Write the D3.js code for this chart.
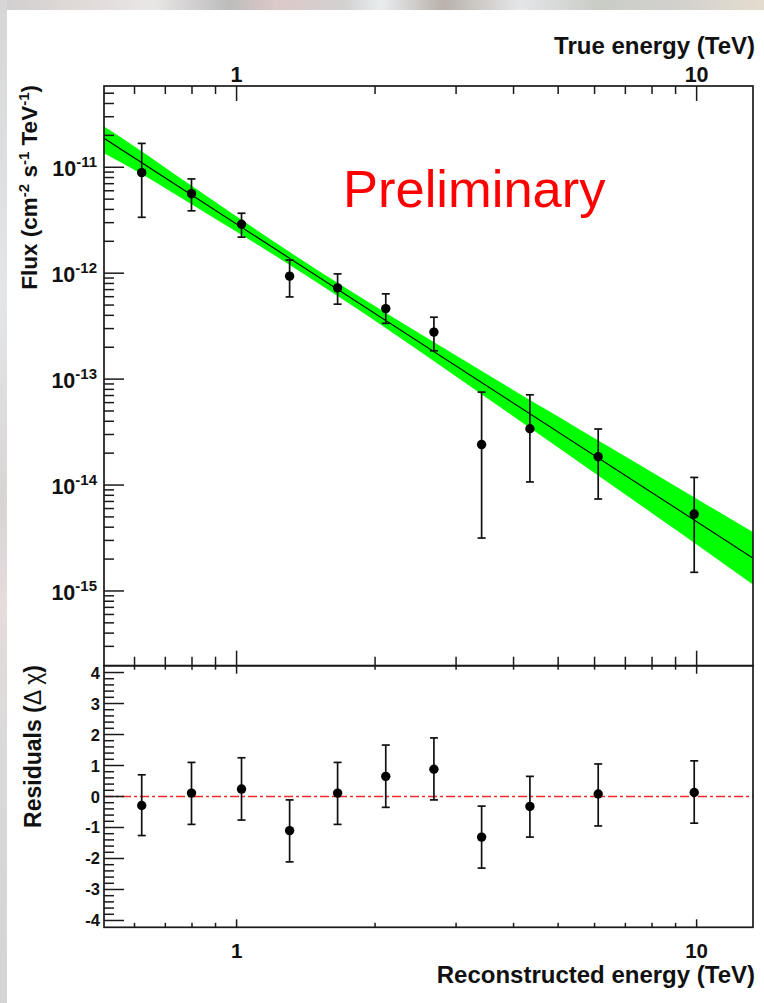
<!DOCTYPE html>
<html>
<head>
<meta charset="utf-8">
<script src="https://cdn.jsdelivr.net/npm/d3@7"></script>
<style>
  html, body { margin: 0; padding: 0; background: #fff; }
  svg { display: block; }
  text { font-family: "Liberation Sans", Arial, sans-serif; }
</style>
</head>
<body>
<svg id="chart" width="764" height="1003"></svg>
<script>
// Measured spectral points (energy in TeV, flux in cm^-2 s^-1 TeV^-1)
const energies = [0.622, 0.798, 1.025, 1.304, 1.658, 2.110, 2.685, 3.409, 4.341, 6.11, 9.88];
const flux     = [8.89e-12, 5.63e-12, 2.90e-12, 9.37e-13, 7.27e-13, 4.63e-13, 2.78e-13, 2.41e-14, 3.40e-14, 1.85e-14, 5.32e-15];
const fluxHi   = [1.68e-11, 7.76e-12, 3.68e-12, 1.33e-12, 9.85e-13, 6.38e-13, 3.84e-13, 7.54e-14, 7.11e-14, 3.38e-14, 1.18e-14];
const fluxLo   = [3.37e-12, 3.88e-12, 2.19e-12, 5.97e-13, 5.10e-13, 3.36e-13, 1.85e-13, 3.16e-15, 1.07e-14, 7.38e-15, 1.50e-15];

// Residuals of the points with respect to the fitted power law
const residuals = [-0.29, 0.11, 0.24, -1.10, 0.11, 0.65, 0.88, -1.31, -0.32, 0.08, 0.13];
const resHi     = [0.70, 1.10, 1.25, -0.11, 1.10, 1.66, 1.89, -0.31, 0.65, 1.05, 1.15];
const resLo     = [-1.26, -0.90, -0.76, -2.11, -0.90, -0.35, -0.11, -2.31, -1.31, -0.95, -0.86];

// Best-fit power law (straight in log-log) and its 1-sigma butterfly
const fitE    = [0.515, 13.25];
const fitFlux = [1.88e-11, 2.05e-15];
const bandE     = [0.515, 0.6, 0.8, 1.0, 1.3, 1.7, 2.2, 3, 4, 5, 6, 8, 10, 13.25];
const bandUpper = [2.42e-11, 1.574e-11, 6.65e-12, 3.43e-12, 1.60e-12, 7.55e-13, 3.77e-13, 1.667e-13, 7.87e-14, 4.43e-14, 2.76e-14, 1.32e-14, 7.43e-15, 3.61e-15];
const bandLower = [1.355e-11, 9.43e-12, 4.46e-12, 2.46e-12, 1.21e-12, 5.67e-13, 2.68e-13, 1.06e-13, 4.44e-14, 2.26e-14, 1.297e-14, 5.42e-15, 2.75e-15, 1.15e-15];

// Axis ticks
const energyMajor = [1, 10];
const energyMinor = [0.6, 0.7, 0.8, 0.9, 2, 3, 4, 5, 6, 7, 8, 9];
const fluxExponents = [-11, -12, -13, -14, -15];
const residualMajor = [-4, -3, -2, -1, 0, 1, 2, 3, 4];

const svg = d3.select("#chart");

// Backdrop around the white sheet
const defs = svg.append("defs");
const gTop = defs.append("linearGradient").attr("id", "bgTop");
[[0, "#cfcfcf"], [0.08, "#ddd7d5"], [0.2, "#e9e6e6"], [0.3, "#bdbcbc"], [0.36, "#dcc9c8"], [0.45, "#d3d1d1"],
 [0.5, "#e9ecee"], [0.58, "#b9b1aa"], [0.68, "#e4e6e8"], [0.78, "#c9cdc6"], [0.88, "#d2d0cd"], [1, "#e4ddcf"]]
  .forEach(([o, c]) => gTop.append("stop").attr("offset", o).attr("stop-color", c));
const gLeft = defs.append("linearGradient").attr("id", "bgLeft").attr("x1", 0).attr("y1", 0).attr("x2", 0).attr("y2", 1);
[[0, "#d6d6d6"], [0.3, "#e4e6e8"], [0.5, "#d8d4d4"], [0.6, "#e6dcdc"], [0.75, "#d9d9d9"], [1, "#d4d4d4"]]
  .forEach(([o, c]) => gLeft.append("stop").attr("offset", o).attr("stop-color", c));
svg.append("rect").attr("x", 0).attr("y", 0).attr("width", 764).attr("height", 10).attr("fill", "url(#bgTop)");
svg.append("rect").attr("x", 0).attr("y", 0).attr("width", 7).attr("height", 1003).attr("fill", "url(#bgLeft)");
svg.append("rect").attr("x", 7).attr("y", 10).attr("width", 757).attr("height", 993).attr("fill", "#fff");

// Layout of the two pads
const left = 104, right = 753;
const top1 = 86, split = 665.7, bottom2 = 927.3;

const x = d3.scaleLog().domain([0.515, 13.26]).range([left, right]);
const y = d3.scaleLog().domain([5.85e-11, 1.97e-16]).range([top1, split]);
const yr = d3.scaleLinear().domain([-4.22, 4.22]).range([bottom2, split]);

defs.append("clipPath").attr("id", "clipTop")
  .append("rect").attr("x", left).attr("y", top1).attr("width", right - left).attr("height", split - top1);

// Butterfly band and fitted line
const plotTop = svg.append("g").attr("clip-path", "url(#clipTop)");
const bandArea = d3.area()
  .x((d, i) => x(bandE[i]))
  .y0((d, i) => y(bandLower[i]))
  .y1((d, i) => y(bandUpper[i]))
  .curve(d3.curveMonotoneX);
plotTop.append("path").datum(bandE).attr("d", bandArea).attr("fill", "#00ff00");
plotTop.append("line")
  .attr("x1", x(fitE[0])).attr("y1", y(fitFlux[0]))
  .attr("x2", x(fitE[1])).attr("y2", y(fitFlux[1]))
  .attr("stroke", "#000").attr("stroke-width", 1.1);

// Flux points with error bars
const capW = 4;
const pts = svg.append("g");
energies.forEach((e, i) => {
  const cx = x(e);
  pts.append("line").attr("x1", cx).attr("x2", cx).attr("y1", y(fluxHi[i])).attr("y2", y(fluxLo[i]))
    .attr("stroke", "#111").attr("stroke-width", 1.7);
  [fluxHi[i], fluxLo[i]].forEach(v => pts.append("line")
    .attr("x1", cx - capW).attr("x2", cx + capW).attr("y1", y(v)).attr("y2", y(v))
    .attr("stroke", "#111").attr("stroke-width", 1.7));
  pts.append("circle").attr("cx", cx).attr("cy", y(flux[i])).attr("r", 4.7).attr("fill", "#000");
});

// Residual pad: zero line and points
svg.append("line").attr("x1", left).attr("x2", right).attr("y1", yr(0)).attr("y2", yr(0))
  .attr("stroke", "#f22a2a").attr("stroke-width", 1.6).attr("stroke-dasharray", "9,3,3,3");
const rpts = svg.append("g");
energies.forEach((e, i) => {
  const cx = x(e);
  rpts.append("line").attr("x1", cx).attr("x2", cx).attr("y1", yr(resHi[i])).attr("y2", yr(resLo[i]))
    .attr("stroke", "#111").attr("stroke-width", 1.7);
  [resHi[i], resLo[i]].forEach(v => rpts.append("line")
    .attr("x1", cx - capW).attr("x2", cx + capW).attr("y1", yr(v)).attr("y2", yr(v))
    .attr("stroke", "#111").attr("stroke-width", 1.7));
  rpts.append("circle").attr("cx", cx).attr("cy", yr(residuals[i])).attr("r", 4.7).attr("fill", "#000");
});

// Frames
const frame = svg.append("g").attr("fill", "none").attr("stroke", "#1a1a1a").attr("stroke-width", 1.7);
frame.append("rect").attr("x", left).attr("y", top1).attr("width", right - left).attr("height", split - top1);
frame.append("rect").attr("x", left).attr("y", split).attr("width", right - left).attr("height", bottom2 - split);

// Tick helper
const ticks = svg.append("g").attr("stroke", "#1a1a1a").attr("stroke-width", 1.5);
function tick(x1, y1, x2, y2) {
  ticks.append("line").attr("x1", x1).attr("y1", y1).attr("x2", x2).attr("y2", y2);
}

// Energy ticks: top of flux pad (true energy), bottom of flux pad, top and bottom of residual pad
energyMajor.forEach(e => {
  const px = x(e);
  tick(px, top1, px, top1 + 15);
  tick(px, split, px, split - 15);
  tick(px, split, px, split + 8);
  tick(px, bottom2, px, bottom2 - 8);
});
energyMinor.forEach(e => {
  const px = x(e);
  tick(px, top1, px, top1 + 8);
  tick(px, split, px, split - 9);
  tick(px, split, px, split + 4);
  tick(px, bottom2, px, bottom2 - 4.5);
});

// Flux ticks (log)
const [fMax, fMin] = y.domain();
fluxExponents.concat([-16, -10]).forEach(p => {
  for (let m = 1; m <= 9; m++) {
    const v = m * Math.pow(10, p);
    if (v > fMax || v < fMin) continue;
    const py = y(v);
    if (py > split - 1) continue;
    tick(left, py, left + (m === 1 ? 20 : 10), py);
  }
});

// Residual ticks (linear, minor every 0.2)
d3.range(-42, 43, 2).forEach(k => {
  const v = k / 10;
  const py = yr(v);
  if (py < split + 1 || py > bottom2 - 1) return;
  tick(left, py, left + (k % 10 === 0 ? 20 : 10), py);
});

// Labels
const lab = svg.append("g").attr("fill", "#111").attr("font-weight", "bold");

fluxExponents.forEach(p => {
  const t = lab.append("text").attr("x", 97).attr("y", y(Math.pow(10, p)) + 9)
    .attr("text-anchor", "end").attr("font-size", 21.5);
  t.append("tspan").text("10");
  t.append("tspan").attr("dy", -9).attr("font-size", 15).text(String(p));
});

residualMajor.forEach(v => {
  lab.append("text").attr("x", 100).attr("y", yr(v) + 6)
    .attr("text-anchor", "end").attr("font-size", 16.5).text(v);
});

energyMajor.forEach(e => {
  lab.append("text").attr("x", x(e)).attr("y", 82).attr("text-anchor", "middle").attr("font-size", 21.5).text(e);
  lab.append("text").attr("x", x(e)).attr("y", 958).attr("text-anchor", "middle").attr("font-size", 20.5).text(e);
});

lab.append("text").attr("x", 755).attr("y", 53.5).attr("text-anchor", "end").attr("font-size", 24)
  .text("True energy (TeV)");
lab.append("text").attr("x", 755).attr("y", 983).attr("text-anchor", "end").attr("font-size", 24)
  .text("Reconstructed energy (TeV)");

// Rotated y titles
const fluxTitle = lab.append("text").attr("transform", "translate(36.5,85) rotate(-90)")
  .attr("text-anchor", "end").attr("font-size", 22.5);
fluxTitle.append("tspan").text("Flux (cm");
fluxTitle.append("tspan").attr("dy", -8).attr("font-size", 15).text("-2");
fluxTitle.append("tspan").attr("dy", 8).text(" s");
fluxTitle.append("tspan").attr("dy", -8).attr("font-size", 15).text("-1");
fluxTitle.append("tspan").attr("dy", 8).text(" TeV");
fluxTitle.append("tspan").attr("dy", -8).attr("font-size", 15).text("-1");
fluxTitle.append("tspan").attr("dy", 8).text(")");

const resTitle = lab.append("text").attr("transform", "translate(40.5,665) rotate(-90)")
  .attr("text-anchor", "end").attr("font-size", 23);
resTitle.append("tspan").text("Residuals (");
resTitle.append("tspan").attr("font-weight", "normal").text("Δ χ");
resTitle.append("tspan").text(")");

// Watermark
svg.append("text").attr("x", 343).attr("y", 207).attr("font-size", 52.5).attr("fill", "#ff0000")
  .text("Preliminary");
</script>
</body>
</html>
